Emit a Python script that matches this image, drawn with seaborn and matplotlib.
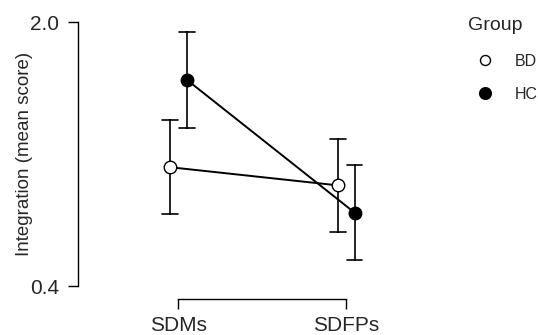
import pandas as pd
import matplotlib.pyplot as plt
import seaborn as sns
from matplotlib.lines import Line2D

# Values (mean and half-width of error bar)
conditions = ["SDMs", "SDMs", "SDFPs", "SDFPs"]
groups = ["BD", "HC", "BD", "HC"]
means = [1.12, 1.65, 1.01, 0.845]
errors = [0.285, 0.29, 0.28, 0.29]

cond_order = ["SDMs", "SDFPs"]
group_order = ["BD", "HC"]
ytick_vals = [0.4, 2.0]

# two rows per cell (mean -/+ error) so that min..max gives the bar
rows = []
for c, g, m, e in zip(conditions, groups, means, errors):
    rows.append({"Condition": c, "Group": g, "Score": m - e})
    rows.append({"Condition": c, "Group": g, "Score": m + e})
df = pd.DataFrame(rows)

sns.set_style("ticks")
plt.rcParams["font.family"] = ["Liberation Sans", "DejaVu Sans"]

fig = plt.figure(figsize=(5.38, 3.35), dpi=100)
ax = fig.add_axes([77.7 / 538, 49 / 335, (446.8 - 77.7) / 538, 264 / 335])

sns.pointplot(data=df, x="Condition", y="Score", hue="Group",
              order=cond_order, hue_order=group_order,
              palette=["black", "black"], markers="o", dodge=0.1,
              errorbar=("pi", 100), capsize=0.095,
              err_kws={"linewidth": 1.2}, linewidth=1.4, markersize=9,
              markeredgewidth=1.0, legend=False, ax=ax)

# open marker for BD
main_lines = [l for l in ax.lines if l.get_marker() == "o"]
main_lines[0].set_markerfacecolor("white")
main_lines[0].set_markeredgecolor("black")
for l in main_lines:
    l.set_zorder(5)

ax.set_xlim(-0.6, 1.6)
ax.set_ylim(0.4, 2.0)
ax.set_yticks(ytick_vals)
ax.set_yticklabels([f"{v:.1f}" for v in ytick_vals])
ax.set_xlabel("")
ax.set_ylabel("Integration (mean score)", fontsize=13.5, labelpad=-2)

sns.despine(ax=ax)
ax.spines["bottom"].set_position(("outward", 9.6))
ax.spines["bottom"].set_bounds(0, 1)
ax.spines["left"].set_bounds(0.4, 2.0)
for s in ["left", "bottom"]:
    ax.spines[s].set_linewidth(1.0)
    ax.spines[s].set_color("black")
ax.tick_params(axis="both", length=7.5, width=1.0, color="black",
               labelsize=15, pad=6)
ax.tick_params(axis="x", pad=4.5)

fig.text(468 / 538, 1 - 26 / 335, "Group", fontsize=14, va="center",
         ha="left")
handles = [
    Line2D([], [], marker="o", linestyle="none", markerfacecolor="white",
           markeredgecolor="black", markersize=7.2, label="BD"),
    Line2D([], [], marker="o", linestyle="none", markerfacecolor="black",
           markeredgecolor="black", markersize=8.4, label="HC"),
]
fig.legend(handles=handles, loc="upper left",
           bbox_to_anchor=(468 / 538, 1 - 54 / 335), frameon=False,
           fontsize=11.5, handlelength=2.1, handletextpad=0.8,
           labelspacing=1.1, borderpad=0, borderaxespad=0)

fig.savefig("out.png", dpi=100)
